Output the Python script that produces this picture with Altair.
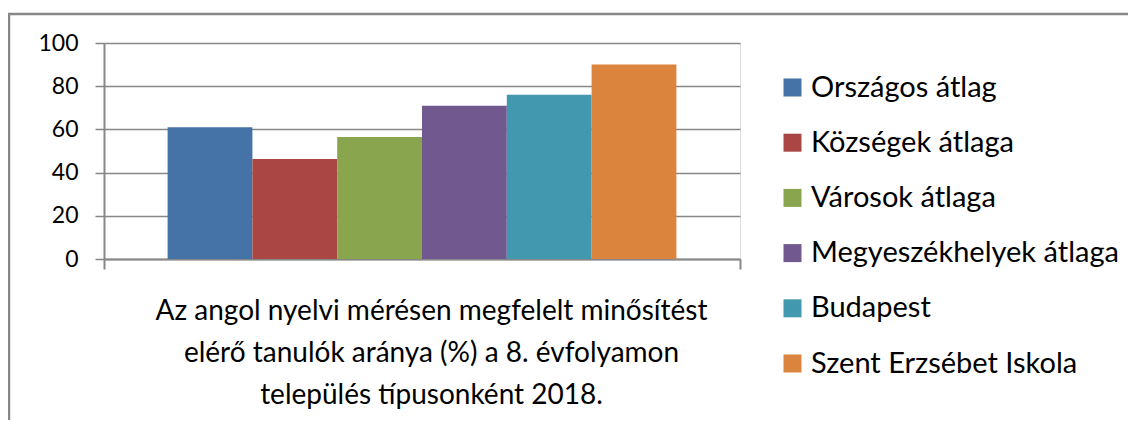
import altair as alt
import pandas as pd

series = ["Országos átlag", "Községek átlaga", "Városok átlaga",
          "Megyeszékhelyek átlaga", "Budapest", "Szent Erzsébet Iskola"]
values = [61, 46.3, 56.5, 71, 76, 90]
colors = ["#4572A7", "#AA4643", "#89A54E", "#71588F", "#4198AF", "#DB843D"]
y_ticks = [0, 20, 40, 60, 80, 100]
title_lines = ["Az angol nyelvi mérésen megfelelt minősítést",
               "elérő tanulók aránya (%) a 8. évfolyamon",
               "település típusonként 2018."]

df = pd.DataFrame({"group": ["2018"] * len(series), "series": series, "value": values})

GRAY = "#878787"
FONT = "Lato"

bars = alt.Chart(df).mark_bar(stroke=None).encode(
    x=alt.X("group:N",
            scale=alt.Scale(paddingInner=0, paddingOuter=0),
            axis=alt.Axis(labels=False, tickBand="extent", tickSize=10,
                          tickColor=GRAY, tickWidth=2, domainColor=GRAY, domainWidth=2,
                          title=title_lines, titleFontSize=28, titleFont=FONT,
                          titleFontWeight="normal", titleColor="black",
                          titleLineHeight=42, titlePadding=27, titleX=327)),
    xOffset=alt.XOffset("series:N", sort=series,
                        scale=alt.Scale(paddingInner=0, paddingOuter=0.75)),
    y=alt.Y("value:Q",
            scale=alt.Scale(domain=[0, 100]),
            axis=alt.Axis(values=y_ticks, title=None, grid=True, gridColor=GRAY,
                          gridWidth=1.5, tickSize=9, tickColor=GRAY, tickWidth=1.5,
                          domainColor=GRAY, domainWidth=2, labelFontSize=23,
                          labelFont=FONT, labelColor="black", labelPadding=17)),
    color=alt.Color("series:N", sort=series,
                    scale=alt.Scale(domain=series, range=colors),
                    legend=alt.Legend(title=None, orient="none", legendX=674, legendY=30,
                                      symbolType="square", symbolSize=324,
                                      symbolStrokeWidth=0, labelFontSize=29,
                                      labelFont=FONT, labelColor="black", labelLimit=0,
                                      rowPadding=25.2, labelOffset=4)),
)

border = alt.Chart(pd.DataFrame({"a": [0]})).mark_rect(
    fill=None, stroke=GRAY, strokeWidth=2.5
).encode(
    x=alt.value(-95), x2=alt.value(1100), y=alt.value(-29), y2=alt.value(500)
)

chart = alt.layer(bars, border).properties(
    width=636, height=216,
    autosize=alt.AutoSizeParams(type="none"),
    padding={"left": 96, "top": 35, "right": 388, "bottom": 161},
).configure_view(stroke=None).configure(background="white")

chart.save("out.html", embed_options={"renderer": "svg", "actions": False})
